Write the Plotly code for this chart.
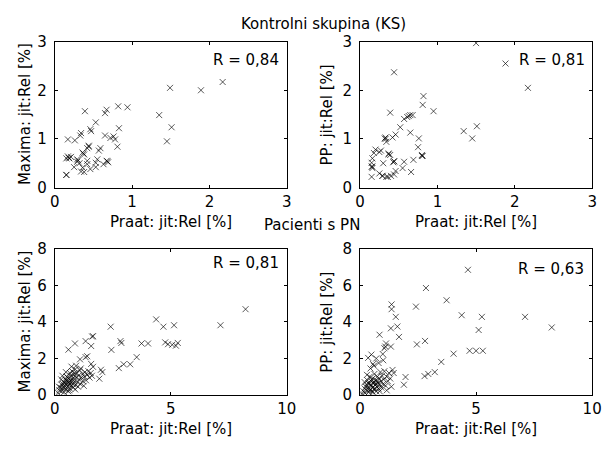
import plotly.graph_objects as go

# ---- Data: Kontrolni skupina (KS) ----
ks_praat_m = [2.17, 1.89, 1.49, 1.35, 1.51, 1.45, 0.94, 0.82, 0.67, 0.65, 0.39, 0.53, 0.46, 0.47,
              0.34, 0.33, 0.17, 0.26, 0.65, 0.76, 0.78, 0.83, 0.81, 0.44, 0.42, 0.36, 0.38, 0.59,
              0.57, 0.17, 0.15, 0.19, 0.21, 0.29, 0.29, 0.32, 0.55, 0.53, 0.67, 0.69, 0.42, 0.46,
              0.36, 0.38, 0.34, 0.25, 0.42, 0.15, 0.15, 0.53, 0.63, 0.72,
              0.37, 0.44, 0.18, 0.30, 0.68]
ks_maxima = [2.17, 2.00, 2.05, 1.49, 1.24, 0.95, 1.65, 1.67, 1.60, 1.53, 1.57, 1.34, 1.20, 1.16,
             1.12, 1.07, 0.99, 0.97, 1.07, 1.05, 0.99, 1.22, 0.84, 0.86, 0.81, 0.72, 0.68, 0.81,
             0.76, 0.64, 0.60, 0.60, 0.63, 0.58, 0.53, 0.50, 0.58, 0.51, 0.55, 0.52, 0.48, 0.38,
             0.41, 0.32, 0.33, 0.42, 0.55, 0.26, 0.26, 0.42, 0.48, 1.02,
             0.70, 0.84, 0.61, 0.56, 0.54]

ks_praat_p = [1.50, 1.88, 2.17, 0.44, 0.82, 0.81, 0.95, 0.39, 0.57, 0.61, 0.65, 0.68, 0.63, 0.52,
              0.46, 0.42, 0.33, 0.32, 0.65, 0.76, 0.75, 0.80, 0.81, 0.69, 0.57, 0.55, 0.44, 0.43,
              0.37, 0.39, 0.25, 0.20, 0.18, 0.27, 0.16, 0.15, 0.16, 0.30, 0.46, 0.44, 0.66, 0.15,
              0.25, 0.29, 0.34, 0.40, 1.34, 1.45, 1.51, 0.34, 0.36, 0.16,
              0.33, 0.15, 0.80, 0.44, 0.37, 0.29]
ks_pp = [2.97, 2.55, 2.05, 2.37, 1.88, 1.70, 1.57, 1.54, 1.41, 1.45, 1.49, 1.49, 1.47, 1.24,
         1.09, 1.03, 1.03, 1.01, 1.13, 1.01, 0.83, 0.67, 0.65, 0.57, 0.53, 0.40, 0.54, 0.52,
         0.70, 0.67, 0.73, 0.78, 0.71, 0.76, 0.60, 0.51, 0.40, 0.50, 0.34, 0.27, 0.32, 0.22,
         0.29, 0.24, 0.22, 0.24, 1.16, 1.01, 1.26, 0.94, 0.22, 0.43,
         1.00, 0.43, 0.65, 0.54, 0.68, 0.24]

# ---- Data: Pacienti s PN ----
pn_praat_m = [8.22, 7.14, 5.14, 4.37, 4.68, 2.41, 4.76, 5.06, 5.30, 5.22, 4.88, 3.74, 4.02, 2.83,
              2.87, 2.44, 3.53, 3.25, 2.97, 2.76, 1.99, 2.05, 1.92, 1.57, 1.61, 1.65, 1.33, 0.87,
              0.59, 1.40, 1.33, 1.09, 1.57, 1.65,
              0.15, 0.20, 0.25, 0.30, 0.30, 0.35, 0.38, 0.40, 0.42, 0.45, 0.48, 0.50, 0.52, 0.55,
              0.55, 0.58, 0.60, 0.62, 0.65, 0.65, 0.68, 0.70, 0.72, 0.75, 0.75, 0.78, 0.80, 0.82,
              0.85, 0.88, 0.90, 0.92, 0.95, 0.98, 1.00, 1.02, 1.05, 1.08, 1.10, 1.15, 1.20, 1.22,
              1.28, 1.30, 1.35, 1.40, 1.45, 1.50, 1.55, 1.60, 0.35, 0.45, 0.55, 0.60, 0.70, 0.80,
              0.85, 0.40, 0.50, 0.65, 0.28, 0.18, 0.72, 0.92, 1.12, 0.62, 0.88, 1.25, 0.33, 0.48]
pn_maxima = [4.70, 3.82, 3.82, 4.14, 3.74, 3.74, 2.88, 2.75, 2.85, 2.70, 2.78, 2.82, 2.82, 2.95,
             2.85, 2.47, 2.07, 1.68, 1.68, 1.47, 1.38, 1.25, 0.89, 2.68, 3.20, 3.22, 2.95, 2.82,
             2.48, 2.12, 2.07, 1.95, 1.70, 1.54,
             0.10, 0.25, 0.40, 0.20, 0.55, 0.35, 0.70, 0.15, 0.50, 0.85, 0.30, 0.60, 1.00, 0.45,
             0.75, 0.20, 0.90, 0.55, 1.20, 0.35, 0.70, 1.05, 0.50, 0.85, 1.30, 0.60, 0.40, 1.10,
             0.75, 1.40, 0.55, 0.95, 1.20, 0.70, 0.45, 1.05, 0.85, 1.35, 0.60, 0.95, 1.15, 0.75,
             1.00, 1.25, 0.80, 1.10, 1.30, 0.95, 1.20, 1.05, 0.60, 0.65, 0.95, 0.70, 0.80, 0.95,
             1.20, 0.40, 0.80, 0.60, 0.85, 0.45, 1.55, 1.60, 1.45, 0.25, 0.30, 0.50, 1.05, 1.25]

pn_praat_p = [4.65, 2.84, 3.73, 2.41, 1.36, 1.36, 1.54, 1.61, 1.33, 1.68, 4.38, 5.25, 7.11, 8.26,
              5.11, 2.80, 2.45, 0.84, 1.09, 1.33, 1.12, 4.72, 5.00, 5.29, 4.03, 3.50, 3.22, 2.94,
              2.78, 1.96, 1.89, 0.49, 0.35, 0.56, 0.98, 0.70, 1.40, 1.45, 1.05,
              0.10, 0.15, 0.20, 0.22, 0.28, 0.30, 0.32, 0.35, 0.38, 0.40, 0.42, 0.45, 0.48, 0.50,
              0.52, 0.55, 0.55, 0.58, 0.60, 0.62, 0.65, 0.68, 0.70, 0.72, 0.75, 0.78, 0.80, 0.82,
              0.85, 0.88, 0.90, 0.92, 0.95, 1.00, 1.02, 1.05, 1.10, 1.15, 1.20, 1.25, 1.30, 0.35,
              0.45, 0.50, 0.60, 0.65, 0.70, 0.25, 0.40, 0.55, 0.75, 0.85, 0.30, 0.45, 0.60, 0.80,
              1.00, 0.20, 1.35, 1.15]
pn_pp = [6.86, 5.86, 5.19, 4.84, 4.96, 4.70, 4.28, 3.75, 3.65, 3.18, 4.37, 4.28, 4.28, 3.70,
         3.56, 2.96, 2.77, 3.30, 2.65, 2.65, 2.82, 2.42, 2.42, 2.42, 2.26, 1.81, 1.25, 1.15,
         1.03, 0.98, 0.56, 2.21, 2.03, 1.69, 2.24, 2.00, 1.37, 1.20, 2.56,
         0.05, 0.20, 0.35, 0.10, 0.55, 0.25, 0.80, 0.40, 0.15, 0.60, 1.00, 0.30, 0.75, 0.50,
         0.20, 0.90, 0.40, 0.65, 0.30, 1.15, 0.55, 0.80, 0.20, 0.45, 1.00, 0.65, 0.35, 0.90,
         0.55, 1.25, 0.75, 0.40, 1.05, 0.60, 0.85, 1.30, 0.50, 1.00, 0.75, 1.20, 0.90, 0.65,
         0.55, 0.85, 0.70, 0.35, 0.60, 0.45, 0.25, 0.15, 0.75, 0.20, 1.10, 1.45, 1.60, 1.75,
         1.90, 0.70, 0.45, 0.25]

ylabels = ["Maxima: jit:Rel [%]", "PP: jit:Rel [%]", "Maxima: jit:Rel [%]", "PP: jit:Rel [%]"]
xlabel = "Praat: jit:Rel [%]"
r_texts = ["R = 0,84", "R = 0,81", "R = 0,81", "R = 0,63"]
titles = ["Kontrolni skupina (KS)", "Pacienti s PN"]

W, H = 608, 450
FONT = "DejaVu Sans, Liberation Sans, sans-serif"
FS = 15


def px(x):
    return x / W


def py(y):
    return 1 - y / H


# panel boxes in pixels: (left, right, top, bottom)
boxes = [(51, 289, 34, 186), (364, 602, 34, 186), (51, 289, 250, 402), (364, 602, 250, 402)]
series = [(ks_praat_m, ks_maxima), (ks_praat_p, ks_pp), (pn_praat_m, pn_maxima), (pn_praat_p, pn_pp)]
xranges = [[0, 3], [0, 3], [0, 10], [0, 10]]
yranges = [[0, 3], [0, 3], [0, 8], [0, 8]]
xticks = [[0, 1, 2, 3], [0, 1, 2, 3], [0, 5, 10], [0, 5, 10]]
yticks = [[0, 1, 2, 3], [0, 1, 2, 3], [0, 2, 4, 6, 8], [0, 2, 4, 6, 8]]
r_pos = [(283, 53), (597, 53), (283, 265), (596, 271)]
ylab_x = [20, 330, 20, 330]

fig = go.Figure()
annotations = []
for i, ((l, r, t, b), (xs, ys)) in enumerate(zip(boxes, series)):
    n = i + 1
    xa = "x" if n == 1 else f"x{n}"
    ya = "y" if n == 1 else f"y{n}"
    fig.add_trace(go.Scatter(
        x=xs, y=ys, mode="markers", xaxis=xa, yaxis=ya, showlegend=False,
        marker=dict(symbol="x-thin-open", size=6, color="rgba(0,0,0,0.65)",
                    line=dict(width=1, color="rgba(0,0,0,0.65)")),
        hoverinfo="skip"))
    axcommon = dict(showline=True, linecolor="black", linewidth=1, mirror="ticks",
                    ticks="inside", ticklen=3, tickcolor="black", showgrid=False,
                    zeroline=False, tickfont=dict(family=FONT, size=FS, color="black"))
    fig.update_layout(**{
        ("xaxis" if n == 1 else f"xaxis{n}"): dict(
            domain=[px(l), px(r)], range=xranges[i], tickvals=xticks[i],
            anchor=ya, **axcommon),
        ("yaxis" if n == 1 else f"yaxis{n}"): dict(
            domain=[py(b), py(t)], range=yranges[i], tickvals=yticks[i],
            anchor=xa, ticklabelstandoff=4, **axcommon),
    })
    annotations.append(dict(text=r_texts[i], x=px(r_pos[i][0]), y=py(r_pos[i][1]),
                            xref="paper", yref="paper", xanchor="right", yanchor="middle",
                            showarrow=False, font=dict(family=FONT, size=FS, color="black")))
    annotations.append(dict(text=xlabel, x=px((l + r) / 2), y=py(b + 36),
                            xref="paper", yref="paper", xanchor="center", yanchor="middle",
                            showarrow=False, font=dict(family=FONT, size=FS, color="black")))
    annotations.append(dict(text=ylabels[i], x=px(ylab_x[i]), y=py((t + b) / 2),
                            xref="paper", yref="paper", xanchor="center", yanchor="middle",
                            textangle=-90, showarrow=False,
                            font=dict(family=FONT, size=FS, color="black")))

annotations.append(dict(text=titles[0], x=px(327), y=py(16), xref="paper", yref="paper",
                        xanchor="center", yanchor="middle", showarrow=False,
                        font=dict(family=FONT, size=FS, color="black")))
annotations.append(dict(text=titles[1], x=px(315), y=py(225), xref="paper", yref="paper",
                        xanchor="center", yanchor="middle", showarrow=False,
                        font=dict(family=FONT, size=FS, color="black")))

fig.update_layout(width=W, height=H, margin=dict(l=0, r=0, t=0, b=0),
                  paper_bgcolor="white", plot_bgcolor="white",
                  annotations=annotations, font=dict(family=FONT))
fig.write_html("out.html")
